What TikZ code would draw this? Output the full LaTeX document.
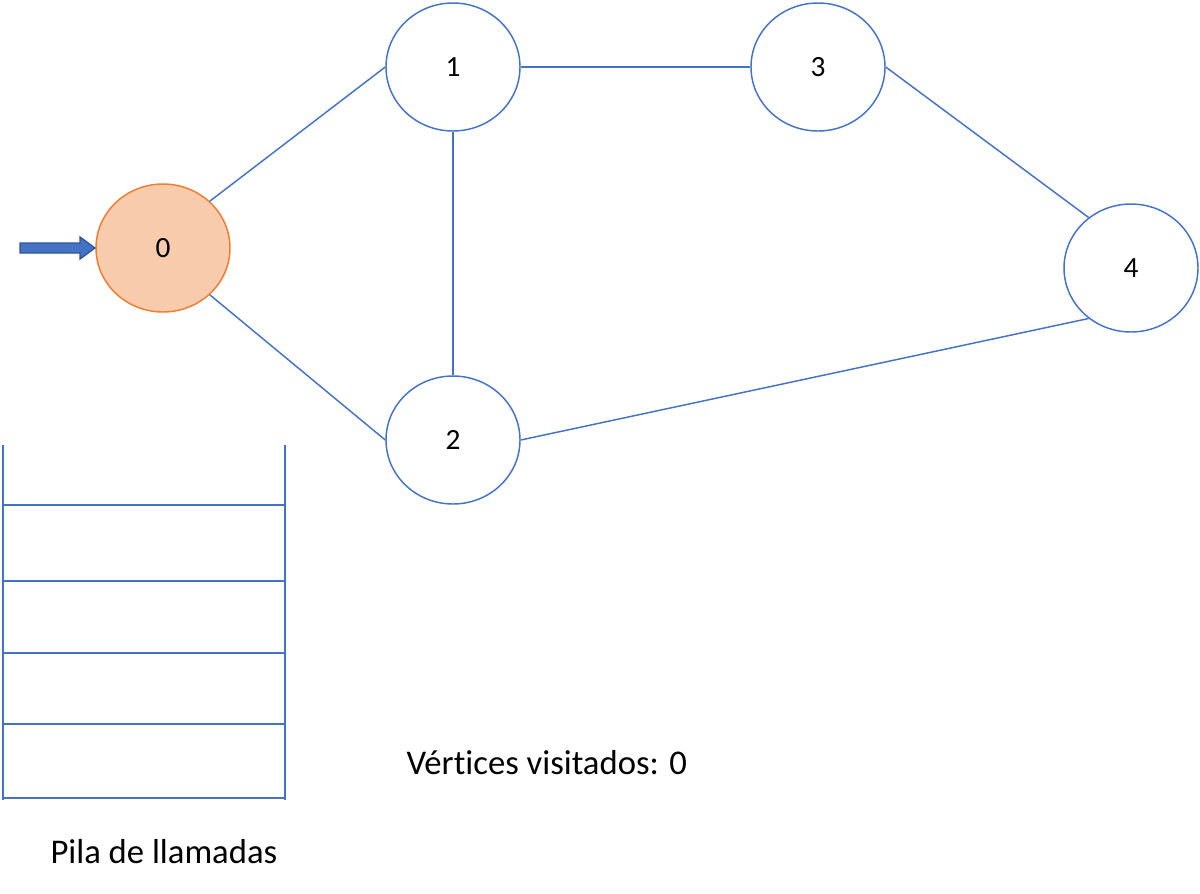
\documentclass[tikz,border=0pt]{standalone}
\usepackage{fontspec}
\setmainfont{Carlito}[RawFeature=-liga]
\usetikzlibrary{shapes.geometric}
\definecolor{edgeblue}{RGB}{68,114,196}
\definecolor{arrowblue}{RGB}{47,85,151}
\definecolor{visitfill}{RGB}{248,203,173}
\definecolor{visitline}{RGB}{237,125,49}
\tikzset{every picture/.style={line width=0.75pt}}
\tikzset{
  vertex/.style={ellipse,draw=edgeblue,line width=1.1pt,fill=white,minimum width=100.5pt,minimum height=96pt,inner sep=0pt,font=\fontsize{22}{26}\selectfont},
  visited/.style={vertex,draw=visitline,fill=visitfill},
  edge/.style={draw=edgeblue,line width=1.1pt},
  pile/.style={draw=edgeblue,line width=1.6pt}
}
\begin{document}
\begin{tikzpicture}[x=0.75pt,y=0.75pt,yscale=-1,xscale=1]
\useasboundingbox (0,0) rectangle (1200,893);

% Vertices
\node [visited] (v0) at (163,248) {0};
\node [vertex] (v1) at (453,67) {1};
\node [vertex] (v3) at (818,67) {3};
\node [vertex] (v4) at (1131,268) {4};
\node [vertex] (v2) at (453,440) {2};

% Edges
\draw [edge] (v0.45) -- (v1.west);
\draw [edge] (v0.-45) -- (v2.west);
\draw [edge] (v1) -- (v3);
\draw [edge] (v1) -- (v2);
\draw [edge] (v3.east) -- (v4.130);
\draw [edge] (v2.east) -- (v4.-130);

% Start arrow
\draw [fill=edgeblue,draw=arrowblue,line width=1pt] (20,243) -- (80,243) -- (80,237) -- (95,248) -- (80,259) -- (80,253) -- (20,253) -- cycle;

% Call stack
\draw [pile] (3,445) -- (3,800);
\draw [pile] (285,445) -- (285,800);
\foreach \y in {505,581,653,724,798}
  \draw [pile] (3,\y) -- (285,\y);

% Text Node
\node [anchor=west,inner sep=0pt,font=\fontsize{26}{30}\selectfont] (visits) at (406,763) {Vértices visitados: 0};
% Text Node
\node [anchor=west,inner sep=0pt,font=\fontsize{26}{30}\selectfont] (pilelabel) at (50,852) {Pila de llamadas};
\end{tikzpicture}
\end{document}
